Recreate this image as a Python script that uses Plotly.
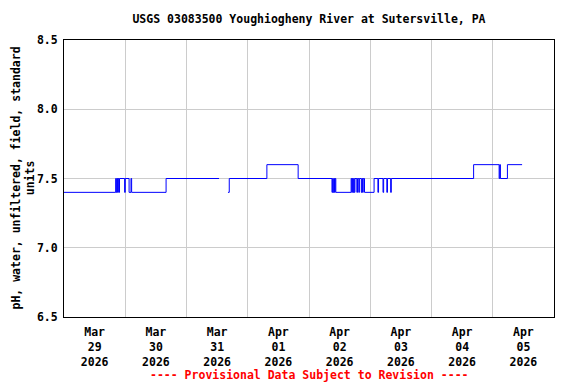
import plotly.graph_objects as go

# pH change points (value holds until next time)
times = [
    "2026-03-29 00:00", "2026-03-29 20:15", "2026-03-29 20:30", "2026-03-29 20:45",
    "2026-03-29 21:00", "2026-03-29 21:15", "2026-03-29 21:30", "2026-03-29 21:45",
    "2026-03-29 23:45", "2026-03-30 00:00", "2026-03-30 01:30", "2026-03-30 02:15",
    "2026-03-30 02:30", "2026-03-30 16:00", "2026-03-31 12:45", "2026-03-31 14:00",
    "2026-03-31 16:15", "2026-03-31 16:45", "2026-04-01 07:30", "2026-04-01 19:45",
    "2026-04-02 09:00", "2026-04-02 09:15", "2026-04-02 09:30", "2026-04-02 09:45",
    "2026-04-02 10:00", "2026-04-02 10:15", "2026-04-02 10:30", "2026-04-02 16:30",
    "2026-04-02 16:45", "2026-04-02 17:00", "2026-04-02 17:15", "2026-04-02 17:30",
    "2026-04-02 17:45", "2026-04-02 18:00", "2026-04-02 18:45", "2026-04-02 19:00",
    "2026-04-02 19:30", "2026-04-02 19:45", "2026-04-02 20:30", "2026-04-02 20:45",
    "2026-04-02 21:00", "2026-04-02 21:15", "2026-04-02 21:45", "2026-04-03 01:30",
    "2026-04-03 03:00", "2026-04-03 03:15", "2026-04-03 05:00", "2026-04-03 05:15",
    "2026-04-03 06:30", "2026-04-03 06:45", "2026-04-03 08:00", "2026-04-03 08:15",
    "2026-04-04 16:30", "2026-04-05 02:30", "2026-04-05 02:45", "2026-04-05 03:00",
    "2026-04-05 05:45", "2026-04-05 11:30",
]
ph = [
    7.4, 7.5, 7.4, 7.5,
    7.4, 7.5, 7.4, 7.5,
    7.4, 7.5, 7.4, 7.5,
    7.4, 7.5, 7.5, None,
    7.4, 7.5, 7.6, 7.5,
    7.4, 7.5, 7.4, 7.5,
    7.4, 7.5, 7.4, 7.5,
    7.4, 7.5, 7.4, 7.5,
    7.4, 7.5, 7.4, 7.5,
    7.4, 7.5, 7.4, 7.5,
    7.4, 7.5, 7.4, 7.5,
    7.4, 7.5, 7.4, 7.5,
    7.4, 7.5, 7.4, 7.5,
    7.6, 7.5, 7.6, 7.5,
    7.6, 7.6,
]

label_days = ["2026-03-29", "2026-03-30", "2026-03-31", "2026-04-01",
              "2026-04-02", "2026-04-03", "2026-04-04", "2026-04-05"]
label_text = ["Mar<br>29<br>2026", "Mar<br>30<br>2026", "Mar<br>31<br>2026",
              "Apr<br>01<br>2026", "Apr<br>02<br>2026", "Apr<br>03<br>2026",
              "Apr<br>04<br>2026", "Apr<br>05<br>2026"]
y_ticks = [6.5, 7.0, 7.5, 8.0, 8.5]
y_title = "pH, water, unfiltered, field, standard<br>units"

FONT = "DejaVu Sans Mono"

# The page body has an 8px default margin; the figure is sized/offset to compensate.
W, H = 568, 376
L, R, T, B = 56, 22, 32, 67
PW = W - L - R

fig = go.Figure()
fig.add_trace(go.Scatter(
    x=times, y=ph, mode="lines", line=dict(color="#0000ff", width=1, shape="hv"),
    connectgaps=False, hoverinfo="skip", showlegend=False,
))

fig.update_layout(
    width=W, height=H,
    margin=dict(l=L, r=R, t=T, b=B, autoexpand=False),
    paper_bgcolor="white", plot_bgcolor="white",
    font=dict(family=FONT, size=11.5, color="black"),
    title=dict(text="<b>USGS 03083500 Youghiogheny River at Sutersville, PA</b>",
               x=0.5, xref="paper", xanchor="center",
               y=1 - 11 / H, yref="container", yanchor="middle",
               font=dict(family=FONT, size=11.5, color="black")),
    xaxis=dict(
        range=["2026-03-29 00:00", "2026-04-06 00:00"],
        automargin=False,
        tickmode="array",
        tickvals=[d + " 12:00" for d in label_days],
        ticktext=["<b>" + t.replace("<br>", "</b><br><b>") + "</b>" for t in label_text],
        showgrid=False, ticks="", zeroline=False, ticklabelstandoff=4,
        showline=True, linecolor="black", linewidth=1, mirror=True,
        minor=dict(tick0="2026-03-29", dtick=86400000, showgrid=True,
                   gridcolor="#cccccc", gridwidth=1, ticks=""),
        tickfont=dict(family=FONT, size=11.5, color="black"),
    ),
    yaxis=dict(
        range=[6.5, 8.5], tickmode="array", tickvals=y_ticks,
        automargin=False, ticklabelstandoff=3,
        ticktext=["<b>%.1f</b>" % v for v in y_ticks],
        showgrid=True, gridcolor="#cccccc", gridwidth=1, zeroline=False,
        showline=True, linecolor="black", linewidth=1, mirror=True, ticks="",
        tickfont=dict(family=FONT, size=11.5, color="black"),
    ),
)

# y-axis title (two lines, rotated)
fig.add_annotation(
    text="<b>" + y_title.replace("<br>", "</b><br><b>") + "</b>",
    textangle=-90, xref="paper", yref="paper",
    x=(15 - L) / PW, y=0.5, xanchor="center", yanchor="middle",
    showarrow=False, font=dict(family=FONT, size=11.5, color="black"),
)

fig.add_annotation(
    text="<b>---- Provisional Data Subject to Revision ----</b>",
    xref="paper", yref="paper", x=0.5, y=-58 / 277, xanchor="center", yanchor="middle",
    showarrow=False, font=dict(family=FONT, size=11.5, color="red"),
)

fig.write_html("out.html")
